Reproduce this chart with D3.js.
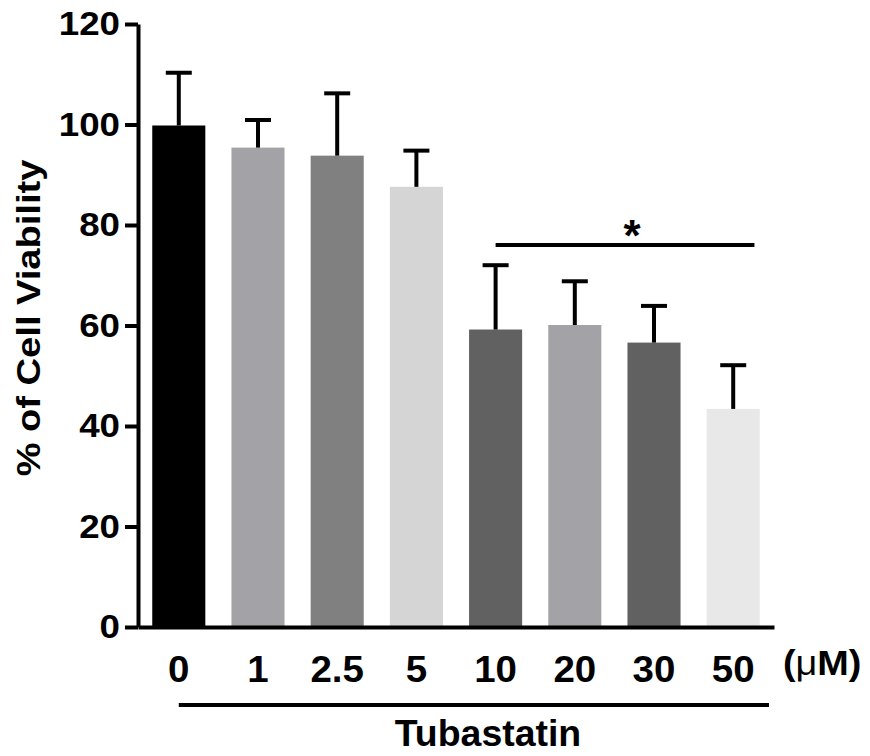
<!DOCTYPE html>
<html>
<head>
<meta charset="utf-8">
<script src="https://cdn.jsdelivr.net/npm/d3@7"></script>
<style>
  body { margin: 0; background: #fff; }
  text { font-family: "Liberation Sans", Arial, sans-serif; font-weight: bold; fill: #000; }
</style>
</head>
<body>
<svg id="chart" width="870" height="756"></svg>
<script>
// data
const doses = ['0', '1', '2.5', '5', '10', '20', '30', '50'];
const viability = [99.8, 95.4, 93.8, 87.6, 59.2, 60.1, 56.6, 43.4];
const sem = [10.5, 5.5, 12.4, 7.2, 12.8, 8.7, 7.3, 8.7];
const barColors = ['#000000', '#a3a3a7', '#808080', '#d5d5d5', '#616161', '#a3a3a7', '#616161', '#e8e8e8'];
const yTicks = [0, 20, 40, 60, 80, 100, 120];

const svg = d3.select('#chart');

const x = d3.scaleBand()
  .domain(doses)
  .range([138, 774])
  .paddingInner(0.33)
  .paddingOuter(0.18);

const y = d3.scaleLinear()
  .domain([0, 120])
  .range([627, 24]);

// stretch text along its own direction (the figure uses wide glyphs)
function widen(sel, k) {
  sel.each(function() {
    const len = this.getComputedTextLength();
    d3.select(this).attr('textLength', len * k).attr('lengthAdjust', 'spacingAndGlyphs');
  });
}

// bars
svg.append('g').selectAll('rect').data(doses).enter()
  .append('rect')
  .attr('x', (d) => x(d))
  .attr('width', x.bandwidth())
  .attr('y', (d, i) => y(viability[i]))
  .attr('height', (d, i) => y(0) - y(viability[i]))
  .attr('fill', (d, i) => barColors[i]);

// error bars (upper only)
const err = svg.append('g').attr('stroke', '#000').attr('stroke-width', 4);
doses.forEach((d, i) => {
  const cx = x(d) + x.bandwidth() / 2;
  err.append('line')
    .attr('x1', cx).attr('x2', cx)
    .attr('y1', y(viability[i])).attr('y2', y(viability[i] + sem[i]));
  err.append('line')
    .attr('x1', cx - 13).attr('x2', cx + 13)
    .attr('y1', y(viability[i] + sem[i])).attr('y2', y(viability[i] + sem[i]));
});

// y axis
const yAxis = svg.append('g')
  .attr('transform', 'translate(138,0)')
  .call(d3.axisLeft(y).tickValues(yTicks).tickSize(13).tickSizeOuter(0).tickPadding(5));
yAxis.selectAll('path, line').attr('stroke', '#000').attr('stroke-width', 4);
yAxis.selectAll('text')
  .attr('font-size', 34)
  .attr('font-family', '"Liberation Sans", Arial, sans-serif')
  .attr('font-weight', 'bold')
  .attr('fill', '#000')
  .call(widen, 1.08);

// x axis
const xAxis = svg.append('g')
  .attr('transform', 'translate(0,627)')
  .call(d3.axisBottom(x).tickSize(0).tickSizeOuter(0).tickPadding(0));
xAxis.select('path').attr('stroke', '#000').attr('stroke-width', 4);
xAxis.selectAll('text')
  .attr('y', 55)
  .attr('dy', null)
  .attr('font-size', 37)
  .attr('font-family', '"Liberation Sans", Arial, sans-serif')
  .attr('font-weight', 'bold')
  .attr('fill', '#000')
  .call(widen, 1.04);

// unit label
const unit = svg.append('text')
  .attr('x', 783)
  .attr('y', 675)
  .attr('font-size', 35);
unit.append('tspan').text('(');
unit.append('tspan').attr('font-weight', 'normal').text('\u03bc');
unit.append('tspan').text('M)');
unit.call(widen, 1.08);

// treatment bracket
svg.append('line')
  .attr('x1', x('0') + x.bandwidth() / 2)
  .attr('x2', 769)
  .attr('y1', 705).attr('y2', 705)
  .attr('stroke', '#000').attr('stroke-width', 4);

svg.append('text')
  .attr('x', 488)
  .attr('y', 746)
  .attr('text-anchor', 'middle')
  .attr('font-size', 36)
  .text('Tubastatin')
  .call(widen, 1.04);

// significance bar
svg.append('line')
  .attr('x1', x('10') + x.bandwidth() / 2)
  .attr('x2', x('50') + x.bandwidth() * 0.9)
  .attr('y1', y(76)).attr('y2', y(76))
  .attr('stroke', '#000').attr('stroke-width', 4);

svg.append('text')
  .attr('x', 632)
  .attr('y', y(76) + 6)
  .attr('text-anchor', 'middle')
  .attr('font-size', 44)
  .text('*');

// y axis title
svg.append('text')
  .attr('transform', 'translate(40,318) rotate(-90)')
  .attr('text-anchor', 'middle')
  .attr('font-size', 34)
  .text('% of Cell Viability')
  .call(widen, 1.12);
</script>
</body>
</html>
